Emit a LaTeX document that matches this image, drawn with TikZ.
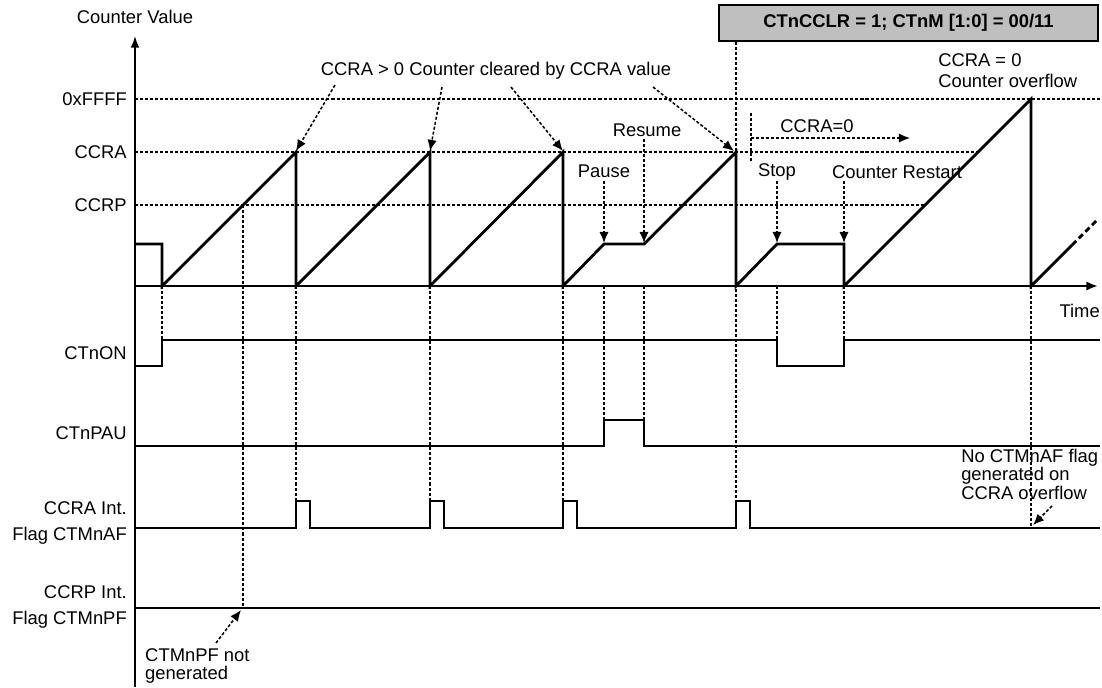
\documentclass[tikz,border=0pt]{standalone}
\usepackage{fontspec}
\setmainfont{Liberation Sans}
\usetikzlibrary{arrows.meta}
\tikzset{
  wave/.style={line width=2.4pt, line join=miter},
  sig/.style={line width=1.5pt},
  guide/.style={line width=1.3pt, dash pattern=on 2.6pt off 1.7pt},
  note/.style={guide, -{Latex[length=9.5pt,width=8pt]}},
  lbl/.style={inner sep=0pt},
}
\begin{document}
\begin{tikzpicture}[x=0.03cm, y=-0.03cm, font=\fontsize{15.7}{18}\selectfont]
          \useasboundingbox (0,0) rectangle (1102,687);
          % levels
          \draw [guide] (135,99) -- (1102,99);
          \draw [guide] (135,152) -- (978,152);
          \draw [guide] (135,205) -- (925,205);
          \node [lbl, anchor=east] (lffff) at (127,99) {0xFFFF};
          \node [lbl, anchor=east] (lccra) at (127,152) {CCRA};
          \node [lbl, anchor=east] (lccrp) at (127,205) {CCRP};
          % mode box
          \node [draw, line width=1.6pt, fill=black!25, minimum width=379*0.03cm, minimum height=36*0.03cm, font=\fontsize{15.7}{18}\selectfont\bfseries] (mode) at (908.5,23) {CTnCCLR = 1; CTnM [1:0] = 00/11};
          % guides
          \draw [guide] (162,286) -- (162,340);
          \draw [guide] (243,205) -- (243,608);
          \draw [guide] (296,286) -- (296,501);
          \draw [guide] (430,286) -- (430,501);
          \draw [guide] (563,286) -- (563,501);
          \draw [guide] (604,286) -- (604,420);
          \draw [guide] (644,286) -- (644,420);
          \draw [guide] (mode.south -| 736,0) -- (736,501);
          \draw [guide] (777,286) -- (777,340);
          \draw [guide] (844,286) -- (844,340);
          \draw [guide] (1031,286) -- (1031,528);
          \draw [guide] (751,113) -- (751,163);
          % axes
          \draw [line width=1.5pt, -{Latex[length=10pt,width=7.5pt]}] (135,687) -- (135,36);
          \draw [wave, -{Latex[length=10pt,width=8pt]}] (135,286) -- (1098,286);
          \node (ylab) at (135,17) {Counter Value};
          \node [lbl, anchor=east] (tlab) at (1100,311) {Time};
          % counter
          \draw [wave] (135,244) -- (162,244) -- (162,286) -- (296,152) -- (296,286) -- (430,152) -- (430,286)
                -- (563,152) -- (563,286) -- (604,244) -- (644,244) -- (736,152) -- (736,286)
                -- (777,244) -- (844,244) -- (844,286) -- (1031,99) -- (1031,286) -- (1072,245);
          \draw [wave, dash pattern=on 5pt off 3pt] (1072,245) -- (1097,220);
          % signals
          \draw [sig] (135,366) -- (162,366) -- (162,340) -- (777,340) -- (777,366) -- (844,366) -- (844,340) -- (1100,340);
          \draw [sig] (135,446) -- (604,446) -- (604,420) -- (644,420) -- (644,446) -- (1100,446);
          \draw [sig] (135,528) foreach \t in {296,430,563,736} { -- (\t,528) -- (\t,501) -- (\t+14,501) -- (\t+14,528) } -- (1100,528);
          \draw [sig] (135,608) -- (1100,608);
          \node [lbl, anchor=east] (lon) at (127,353) {CTnON};
          \node [lbl, anchor=east] (lpau) at (127,433) {CTnPAU};
          \node [lbl, anchor=east, align=right, font=\fontsize{15.7}{21.5}\selectfont] (laf) at (127,523) {CCRA Int.\\Flag CTMnAF};
          \node [lbl, anchor=east, align=right, font=\fontsize{15.7}{21.5}\selectfont] (lpf) at (127,607) {CCRP Int.\\Flag CTMnPF};
          % notes
          \node (clr) at (496,71) {CCRA > 0 Counter cleared by CCRA value};
          \draw [note] (335,85) -- (296,151);
          \draw [note] (442,87) -- (430,151);
          \draw [note] (511,87) -- (563,151);
          \draw [note] (653,87) -- (734,151);
          \node [lbl] (pause) at (604,171) {Pause};
          \node [lbl] (resume) at (647,130) {Resume};
          \node [lbl] (stop) at (777,172) {Stop};
          \node [lbl] (restart) at (897,172) {Counter Restart};
          \draw [note] (604,181) -- (604,243);
          \draw [note] (644,139) -- (644,243);
          \draw [note] (777,181) -- (777,243);
          \draw [note] (844,181) -- (844,243);
          \node [lbl] (czero) at (817,126) {CCRA=0};
          \draw [note] (751,138) -- (910,138);
          \node [lbl, anchor=north west, align=left] (ovf) at (938,53) {CCRA = 0\\Counter overflow};
          \node [lbl, anchor=north west, align=left, font=\fontsize{15.7}{15.7}\selectfont] (noaf) at (961,449) {No CTMnAF flag\\generated on\\CCRA overflow};
          \draw [note] (1052,506) -- (1033,525);
          \node [lbl, anchor=north west, align=left, font=\fontsize{15.7}{15.7}\selectfont] (nopf) at (145,648) {CTMnPF not\\generated};
          \draw [note] (216,643) -- (241,610);
      \end{tikzpicture}
\end{document}
